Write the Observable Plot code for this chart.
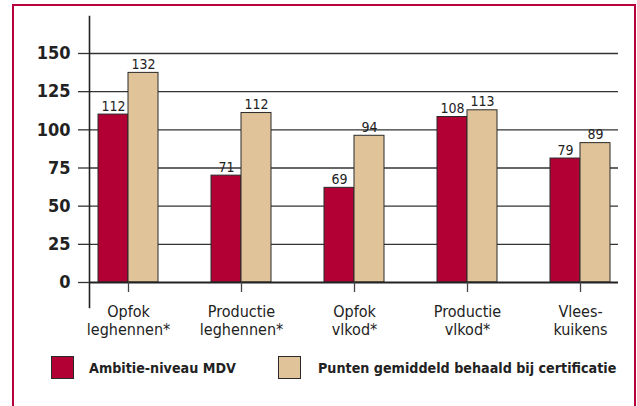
<!DOCTYPE html>
<html>
<head>
<meta charset="utf-8">
<script src="https://cdn.jsdelivr.net/npm/d3@7"></script>
<script src="https://cdn.jsdelivr.net/npm/@observablehq/plot@0.6"></script>
<style>
  html, body { margin: 0; padding: 0; background: #fff; }
  body { font-family: "DejaVu Sans Condensed", "Liberation Sans Narrow", "DejaVu Sans", sans-serif; font-stretch: condensed; }
  #wrap { position: relative; width: 637px; height: 406px; overflow: hidden; background: #fff; }
  #border { position: absolute; left: 12px; top: 4px; width: 624px; height: 480px; box-sizing: border-box;
            border: 2px solid #b8003a; border-bottom: none; }
  #chart { position: absolute; left: 0; top: 0; }
  .item { position: absolute; top: 356px; display: flex; align-items: center; }
  .sw { width: 23px; height: 23px; box-sizing: border-box; border: 1px solid #2a2a2a; }
  .lab { font-weight: bold; font-size: 14.2px; color: #222; white-space: nowrap; }
</style>
</head>
<body>
<div id="wrap">
  <div id="border"></div>
  <div id="chart"></div>
  <div class="item" id="leg0" style="left:51px"><div class="sw"></div><span class="lab" style="margin-left:15px"></span></div>
  <div class="item" id="leg1" style="left:278px"><div class="sw"></div><span class="lab" style="margin-left:17px"></span></div>
</div>
<script>
const categories = ["Opfok\nleghennen*", "Productie\nleghennen*", "Opfok\nvlkod*", "Productie\nvlkod*", "Vlees-\nkuikens"];
const seriesNames = ["Ambitie-niveau MDV", "Punten gemiddeld behaald bij certificatie"];
const seriesColors = ["#b20034", "#e0c398"];
// bar heights as drawn in the picture
const ambitieBars = [110, 70, 62, 108.4, 81.2];
const behaaldBars = [137.3, 111, 96.1, 112.8, 91.3];
// value labels printed above the bars
const ambitieLabels = ["112", "71", "69", "108", "79"];
const behaaldLabels = ["132", "112", "94", "113", "89"];
const yTicks = [0, 25, 50, 75, 100, 125, 150];

const FONT = '"DejaVu Sans Condensed", "Liberation Sans Narrow", "DejaVu Sans", sans-serif';

const ambitie = categories.map((c, i) => ({cat: c, value: ambitieBars[i], label: ambitieLabels[i]}));
const behaald = categories.map((c, i) => ({cat: c, value: behaaldBars[i], label: behaaldLabels[i]}));

const chart = Plot.plot({
  width: 637,
  height: 350,
  marginLeft: 89,
  marginRight: 19,
  marginTop: 16,
  marginBottom: 68,
  style: {fontFamily: FONT, background: "transparent", overflow: "visible", fontStretch: "condensed"},
  x: {domain: categories, paddingInner: 0.736, paddingOuter: 0.198, label: null, axis: null},
  y: {domain: [0, 150], range: [282, 53], label: null, axis: null},
  marks: [
    Plot.ruleY(yTicks.filter(d => d > 0), {stroke: "#333", strokeWidth: 1.3}),
    Plot.frame({anchor: "left", insetBottom: -25, stroke: "#222", strokeWidth: 1.6}),
    Plot.axisY({ticks: yTicks, tickSize: 11, tickPadding: 8, fontSize: 18, fontWeight: "bold",
                fill: "#222", stroke: "#333", strokeWidth: 1.3, label: null, tickFormat: d => String(d)}),
    Plot.barY(ambitie, {x: "cat", y: "value", dx: -15, fill: seriesColors[0], stroke: "#2a2a2a", strokeWidth: 1}),
    Plot.barY(behaald, {x: "cat", y: "value", dx: 15, fill: seriesColors[1], stroke: "#2a2a2a", strokeWidth: 1}),
    Plot.ruleY([0], {stroke: "#222", strokeWidth: 2}),
    Plot.axisX({tickSize: 10, tickPadding: 12, fontSize: 16, lineHeight: 1.125, fill: "#222",
                stroke: "#444", strokeWidth: 1.3, label: null}),
    Plot.text(ambitie, {x: "cat", y: "value", text: "label", dx: -15, dy: -4, lineAnchor: "bottom", fontSize: 14, fill: "#222"}),
    Plot.text(behaald, {x: "cat", y: "value", text: "label", dx: 15, dy: -4, lineAnchor: "bottom", fontSize: 14, fill: "#222"})
  ]
});
document.getElementById("chart").appendChild(chart);

seriesNames.forEach((name, i) => {
  const item = document.getElementById("leg" + i);
  item.querySelector(".sw").style.background = seriesColors[i];
  item.querySelector(".lab").textContent = name;
});
</script>
</body>
</html>
